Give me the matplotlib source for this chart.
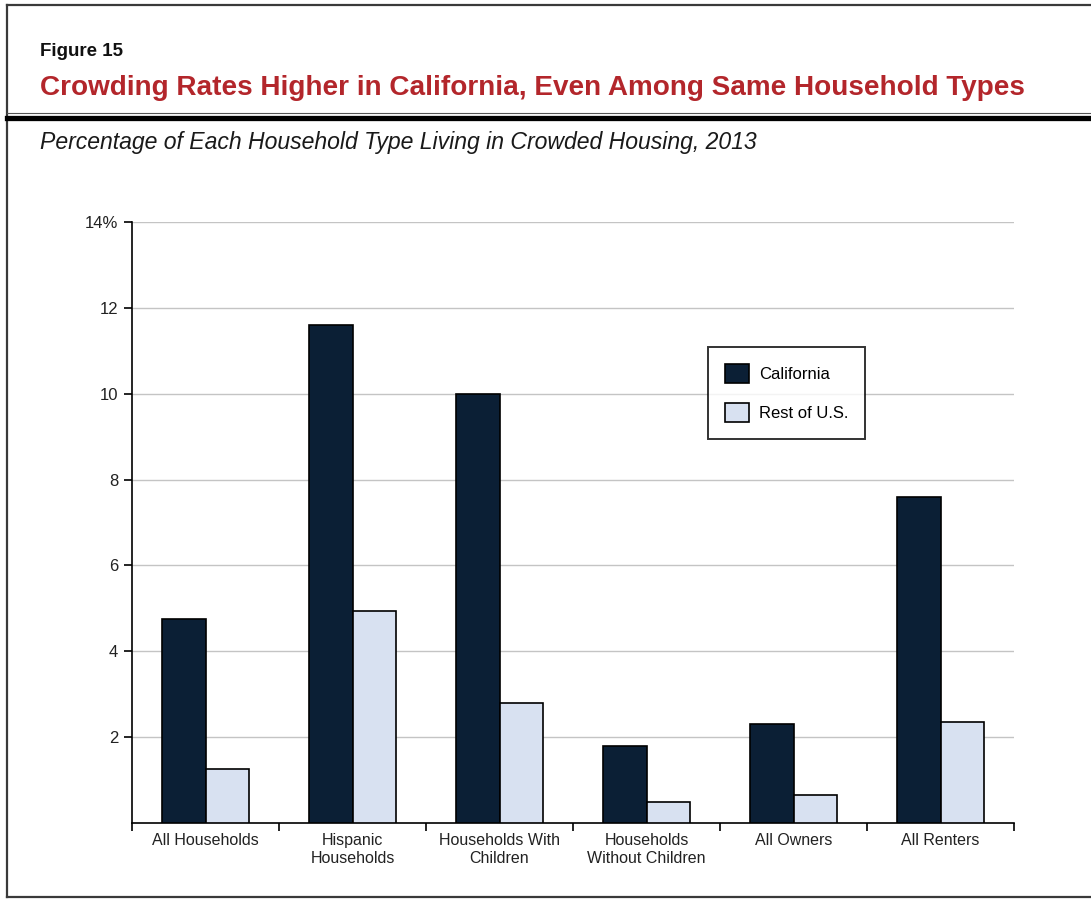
import numpy as np
import matplotlib.pyplot as plt
from matplotlib.lines import Line2D
from matplotlib.patches import Patch

plt.rcParams["font.family"] = ["Liberation Sans", "DejaVu Sans"]

# Доля домохозяйств, живущих в перенаселённом жилье, 2013 (%)
categories = ["All Households", "Hispanic\nHouseholds", "Households With\nChildren",
              "Households\nWithout Children", "All Owners", "All Renters"]
california = [4.75, 11.6, 10.0, 1.8, 2.3, 7.6]
rest_of_us = [1.25, 4.95, 2.8, 0.5, 0.65, 2.35]
y_ticks = [2, 4, 6, 8, 10, 12, 14]
y_tick_labels = ["2", "4", "6", "8", "10", "12", "14%"]

W, H = 1091, 899
fig = plt.figure(figsize=(W / 100, H / 100), dpi=100)


def fx(px):
    return px / W


def fy(py):
    return 1 - py / H


# рамка и линии заголовка
frame_kw = dict(color="#3a3a3a", lw=1.6, transform=fig.transFigure)
fig.add_artist(Line2D([fx(7), fx(7)], [fy(5), fy(897)], **frame_kw))
fig.add_artist(Line2D([fx(7), 1], [fy(5), fy(5)], **frame_kw))
fig.add_artist(Line2D([fx(7), 1], [fy(897), fy(897)], **frame_kw))
fig.add_artist(Line2D([fx(7), 1], [fy(112.5), fy(112.5)], color="#555555", lw=0.8,
                      transform=fig.transFigure))
fig.add_artist(Line2D([fx(7), 1], [fy(117.5), fy(117.5)], color="black", lw=3.8,
                      transform=fig.transFigure))

fig.text(fx(40), fy(52), "Figure 15", fontsize=13.5, fontweight="bold",
         color="#111111", va="center", ha="left")
fig.text(fx(40), fy(88), "Crowding Rates Higher in California, Even Among Same Household Types",
         fontsize=20.1, fontweight="bold", color="#b3262b", va="center", ha="left")
fig.text(fx(40), fy(142), "Percentage of Each Household Type Living in Crowded Housing, 2013",
         fontsize=16.6, style="italic", color="#1a1a1a", va="center", ha="left")

ax = fig.add_axes([fx(132), fy(823), fx(1014) - fx(132), fy(222) - fy(823)])

x = np.arange(len(categories))
bw = 0.295
ax.bar(x - bw / 2, california, bw, color="#0b1f35", edgecolor="black", lw=1.2,
       label="California", zorder=3)
ax.bar(x + bw / 2, rest_of_us, bw, color="#d8e1f1", edgecolor="black", lw=1.2,
       label="Rest of U.S.", zorder=3)

ax.set_xlim(-0.5, len(categories) - 0.5)
ax.set_ylim(0, 14)

ax.set_yticks(y_ticks)
ax.set_yticklabels(y_tick_labels, fontsize=12, color="#222222")
ax.yaxis.grid(True, color="#c4c4c4", lw=1.0, zorder=0)
ax.set_axisbelow(True)

# деления оси X — на границах групп, подписи — по центрам
ax.set_xticks(np.arange(-0.5, len(categories), 1.0))
ax.set_xticklabels([])
ax.set_xticks(x, minor=True)
ax.set_xticklabels(categories, minor=True, fontsize=11.5, color="#222222",
                   linespacing=1.25)
ax.tick_params(axis="x", which="major", length=6, width=1.2, direction="out")
ax.tick_params(axis="x", which="minor", length=0, pad=7)
ax.tick_params(axis="y", length=6, width=1.2, direction="out", pad=4)

for side in ["top", "right"]:
    ax.spines[side].set_visible(False)
for side in ["left", "bottom"]:
    ax.spines[side].set_linewidth(1.2)

handles = [Patch(facecolor="#0b1f35", edgecolor="black", lw=1.2, label="California"),
           Patch(facecolor="#d8e1f1", edgecolor="black", lw=1.2, label="Rest of U.S.")]
leg = ax.legend(handles=handles, loc="upper left",
                bbox_to_anchor=((708 - 132) / (1014 - 132), (823 - 347) / (823 - 222)),
                fontsize=12, frameon=True, fancybox=False, edgecolor="black",
                handlelength=1.45, handleheight=1.45, handletextpad=0.6,
                labelspacing=1.15, borderpad=1.0, borderaxespad=0)
leg.get_frame().set_linewidth(1.4)
leg.set_zorder(5)

fig.savefig("out.png", dpi=100, facecolor="white")
